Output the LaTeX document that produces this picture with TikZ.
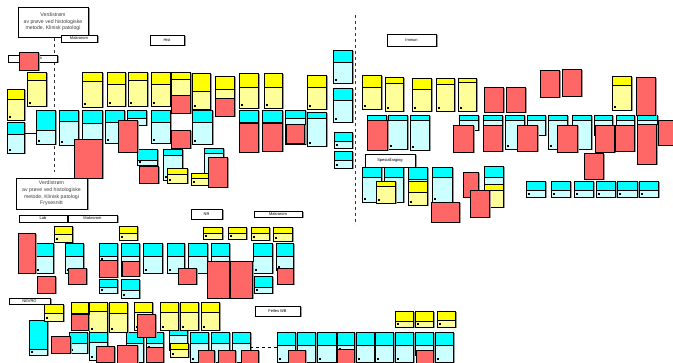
\documentclass[tikz,border=0pt]{standalone}
\usepackage{fontspec}
\setmainfont{Liberation Sans}
\definecolor{yb}{HTML}{FFFF00}
\definecolor{yl}{HTML}{FFFF99}
\definecolor{cb}{HTML}{00FFFF}
\definecolor{cl}{HTML}{CCFFFF}
\definecolor{rn}{HTML}{FF6666}
\definecolor{sh}{HTML}{9A9A9A}
\tikzset{bx/.style={draw=black,line width=0.8pt},
  lbltext/.style={font=\fontsize{4}{4}\selectfont,inner sep=0pt},
  titletext/.style={font=\fontsize{5.2}{6.6}\selectfont,align=center,inner sep=0pt,text=black!75},
  divider/.style={dashed,line width=0.8pt,black!80}}
\newcommand\cardbox[7]{%
 \fill[sh] (#3+1.5,#4+1.5) rectangle (#5+1.5,#6+1.5);
 \filldraw[bx,fill=#2] (#3,#4) rectangle (#5,#6);
 \filldraw[bx,fill=#1] (#3,#4) rectangle (#5,#7);
 \fill[black] (#3+1.5,#6-4) rectangle (#3+4,#6-1.5);}
\newcommand\ycard[5]{\cardbox{yb}{yl}{#1}{#2}{#3}{#4}{#5}}
\newcommand\ccard[5]{\cardbox{cb}{cl}{#1}{#2}{#3}{#4}{#5}}
\newcommand\rnote[4]{\fill[sh] (#1+1.5,#2+1.5) rectangle (#3+1.5,#4+1.5); \filldraw[bx,fill=rn] (#1,#2) rectangle (#3,#4);}
\newcommand\lbox[6]{\fill[sh] (#2+1.5,#3+1.5) rectangle (#4+1.5,#5+1.5);
 \filldraw[bx,fill=white] (#2,#3) rectangle (#4,#5);
 \node[lbltext] (#1) at ({(#2+#4)/2},{(#3+#5)/2}) {#6};}
\begin{document}
\begin{tikzpicture}[x=1pt,y=-1pt]
\useasboundingbox (0,0) rectangle (673,363);
% dividers
\draw[divider] (54,38) -- (54,172);
\draw[divider] (355,15) -- (355,225);
% title boxes
\fill[sh] (19.5,8.5) rectangle (89.5,38.5);
\filldraw[bx,fill=white] (18,7) rectangle (88,37);
\node[titletext] (title1) at (53,22) {Verdistrøm\\av prøve ved histologiske\\metode, Klinisk patologi};
\fill[sh] (17.5,179.5) rectangle (88.5,210.5);
\filldraw[bx,fill=white] (16,178) rectangle (87,209);
\node[titletext] (title2) at (51.5,193.5) {Verdistrøm\\av prøve ved histologiske\\metode, Klinisk patologi\\Frysesnitt};
% labels
\lbox{lab1}{8}{55}{57}{62}{\hspace*{12pt}Lab}
\lbox{makro1}{61}{35}{97}{42}{Makrorom}
\lbox{hist}{150}{35}{184}{45}{Hist}
\lbox{immun}{387}{34}{436}{46}{Immun}
\lbox{spes}{365}{154}{415}{167}{Spesialfarging}
\lbox{lab2}{19}{215}{67}{222}{Lab}
\lbox{makro2}{68}{215}{117}{222}{Makrorom}
\lbox{nr}{191}{209}{222}{219}{NR}
\lbox{makro3}{254}{211}{302}{217}{Makrorom}
\lbox{nevro}{9}{298}{50}{304}{NEVRO}
\lbox{felles}{255}{306}{300}{316}{Felles WB}
% ---------- top area cyan cards
\ccard{333}{50}{352}{83}{62}
\ccard{333}{88}{352}{122}{100}
\ccard{7}{122}{24}{153}{134}
\draw[line width=0.7pt] (24,133) -- (36,133);
\ccard{36}{110}{55}{144}{130}
\ccard{59}{110}{78}{145}{121}
\ccard{82}{110}{102}{145}{123}
\ccard{105}{110}{124}{143}{122}
\ccard{127}{110}{146}{125}{118}
\ccard{151}{110}{170}{143}{122}
\ccard{163}{149}{182}{180}{155}
\ccard{192}{110}{212}{144}{122}
\ccard{239}{110}{258}{130}{122}
\ccard{262}{110}{282}{130}{122}
\ccard{285}{110}{305}{144}{118}
\ccard{307}{112}{326}{146}{118}
\ccard{334}{132}{352}{148}{141}
\ccard{334}{151}{352}{168}{160}
\ccard{204}{148}{223}{178}{153}
\ccard{137}{149}{157}{165}{160}
% right top row
\ccard{367}{115}{386}{130}{120}
\ccard{388}{115}{407}{149}{120}
\ccard{410}{115}{429}{150}{120}
\ccard{459}{115}{478}{130}{120}
\ccard{483}{115}{502}{130}{120}
\ccard{505}{115}{524}{149}{120}
\ccard{527}{115}{545}{135}{120}
\ccard{548}{115}{567}{149}{120}
\ccard{572}{115}{591}{149}{120}
\ccard{594}{115}{612}{135}{120}
\ccard{616}{115}{634}{135}{120}
\ccard{637}{115}{657}{135}{120}
% spesialfarging group
\ccard{362}{167}{381}{202}{177}
\ccard{384}{167}{403}{202}{177}
\ccard{408}{167}{427}{185}{179}
\ccard{432}{167}{452}{202}{177}
\ccard{484}{166}{503}{190}{177}
% small cyan row right
\ccard{526}{181}{545}{197}{190}
\ccard{551}{181}{570}{197}{190}
\ccard{574}{181}{593}{197}{190}
\ccard{596}{181}{615}{197}{190}
\ccard{617}{181}{637}{197}{190}
\ccard{639}{181}{658}{197}{190}
% ---------- top area yellow cards
\ycard{27}{72}{46}{106}{80}
\ycard{7}{89}{24}{120}{99}
\ycard{82}{72}{102}{107}{81}
\ycard{107}{72}{125}{106}{84}
\ycard{128}{72}{147}{106}{80}
\ycard{151}{72}{170}{106}{84}
\ycard{171}{72}{190}{113}{79}
\ycard{192}{73}{210}{109}{91}
\ycard{215}{76}{234}{104}{89}
\ycard{239}{73}{258}{108}{87}
\ycard{264}{73}{282}{108}{87}
\ycard{307}{75}{326}{109}{87}
\ycard{362}{75}{381}{109}{87}
\ycard{385}{77}{403}{111}{83}
\ycard{412}{78}{431}{111}{89}
\ycard{436}{78}{454}{111}{84}
\ycard{458}{78}{476}{111}{82}
\ycard{612}{76}{631}{110}{85}
\ycard{167}{168}{187}{183}{174}
\ycard{191}{173}{208}{185}{178}
\ycard{376}{181}{395}{203}{186}
\ycard{408}{181}{427}{205}{192}
\ycard{484}{184}{503}{207}{190}
% ---------- top area red notes
\rnote{19}{52}{38}{70}
\rnote{74}{139}{102}{178}
\rnote{118}{120}{137}{152}
\rnote{171}{130}{190}{148}
\rnote{171}{95}{190}{113}
\rnote{215}{98}{234}{116}
\rnote{239}{123}{258}{152}
\rnote{262}{123}{282}{151}
\rnote{286}{124}{304}{143}
\rnote{208}{157}{227}{187}
\rnote{139}{166}{158}{183}
\rnote{484}{87}{503}{112}
\rnote{506}{87}{525}{112}
\rnote{540}{70}{559}{97}
\rnote{562}{69}{581}{96}
\rnote{636}{77}{655}{115}
\rnote{367}{120}{387}{150}
\rnote{453}{125}{473}{152}
\rnote{483}{125}{502}{151}
\rnote{517}{125}{537}{151}
\rnote{557}{125}{577}{152}
\rnote{595}{125}{614}{152}
\rnote{615}{125}{634}{151}
\rnote{637}{124}{656}{164}
\rnote{658}{120}{673}{145}
\rnote{584}{153}{603}{179}
\rnote{431}{202}{459}{222}
\rnote{463}{172}{478}{197}
\rnote{470}{190}{489}{217}
% ---------- lower area cyan cards
\ccard{35}{243}{53}{273}{256}
\ccard{65}{243}{83}{273}{256}
\ccard{99}{243}{117}{262}{256}
\ccard{121}{243}{139}{276}{256}
\ccard{143}{243}{162}{273}{256}
\ccard{167}{243}{184}{273}{256}
\ccard{188}{243}{207}{273}{256}
\ccard{211}{243}{229}{265}{256}
\ccard{253}{243}{272}{273}{256}
\ccard{276}{243}{293}{270}{256}
\ccard{99}{279}{117}{293}{287}
\ccard{121}{279}{139}{298}{290}
\ccard{254}{276}{272}{293}{287}
\ccard{29}{320}{47}{355}{349}
\ccard{69}{332}{87}{353}{343}
\ccard{89}{332}{107}{360}{342}
\ccard{126}{332}{143}{362}{343}
\ccard{146}{332}{163}{350}{343}
\ccard{169}{325}{187}{350}{335}
\ccard{190}{332}{208}{362}{343}
\ccard{211}{332}{229}{362}{343}
\ccard{232}{332}{250}{362}{343}
\draw[dashed,line width=0.7pt] (250,347) -- (277,347);
\ccard{277}{332}{295}{362}{345}
\ccard{297}{332}{315}{362}{345}
\ccard{317}{332}{336}{362}{345}
\ccard{337}{332}{354}{352}{345}
\ccard{356}{332}{374}{362}{345}
\ccard{375}{332}{393}{362}{345}
\ccard{395}{332}{413}{362}{345}
\ccard{415}{332}{433}{355}{345}
\ccard{435}{332}{453}{362}{345}
% ---------- lower area yellow cards
\ycard{54}{226}{72}{242}{234}
\ycard{119}{226}{137}{240}{233}
\ycard{203}{227}{222}{239}{233}
\ycard{228}{227}{246}{239}{233}
\ycard{251}{227}{269}{240}{233}
\ycard{273}{227}{292}{241}{233}
\ycard{44}{304}{63}{321}{313}
\ycard{71}{302}{88}{330}{313}
\ycard{89}{302}{107}{332}{311}
\ycard{109}{302}{127}{332}{313}
\ycard{134}{302}{152}{330}{312}
\ycard{160}{302}{178}{330}{312}
\ycard{180}{302}{198}{330}{312}
\ycard{201}{302}{219}{330}{312}
\ycard{170}{343}{188}{357}{349}
\ycard{395}{311}{413}{327}{321}
\ycard{415}{311}{433}{327}{321}
\ycard{437}{311}{455}{327}{320}
% ---------- lower area red notes
\rnote{18}{233}{35}{273}
\rnote{68}{268}{86}{284}
\rnote{37}{276}{55}{293}
\rnote{99}{260}{117}{277}
\rnote{122}{261}{139}{276}
\rnote{178}{268}{196}{284}
\rnote{207}{261}{229}{298}
\rnote{230}{261}{252}{298}
\rnote{277}{268}{293}{284}
\rnote{71}{314}{88}{330}
\rnote{137}{314}{155}{337}
\rnote{51}{336}{70}{353}
\rnote{96}{346}{114}{362}
\rnote{117}{345}{137}{363}
\rnote{146}{347}{163}{362}
\rnote{198}{350}{214}{363}
\rnote{218}{350}{235}{363}
\rnote{241}{350}{258}{363}
\rnote{288}{350}{305}{363}
\rnote{337}{349}{354}{363}
\rnote{416}{350}{433}{363}
\end{tikzpicture}
\end{document}
